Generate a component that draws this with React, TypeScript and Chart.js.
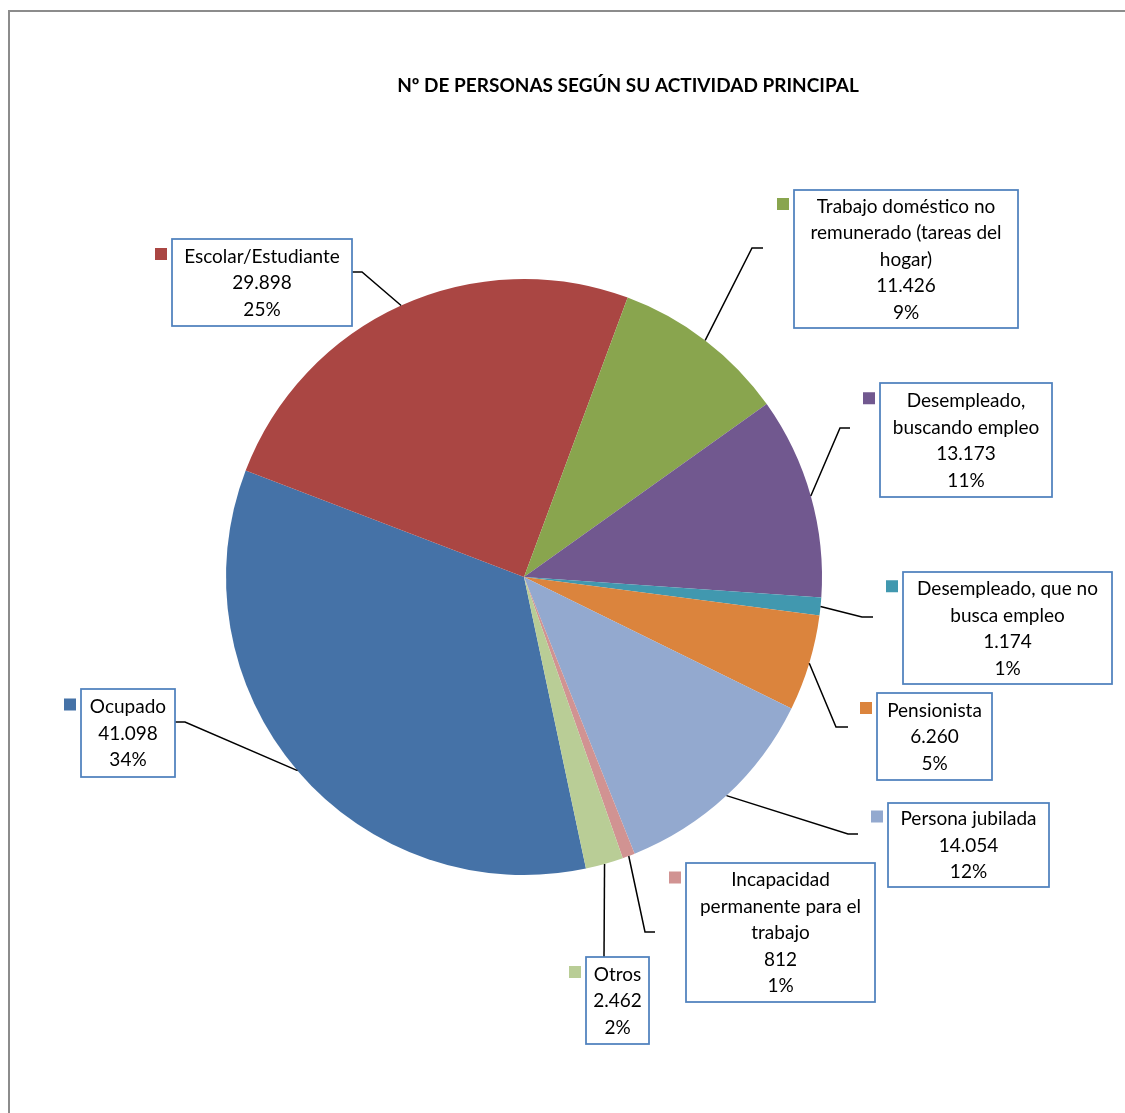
import React, { useEffect, useRef } from "react";
import { Chart, registerables } from "chart.js";

Chart.register(...registerables);

// ---------- DATA ----------
const title = "Nº DE PERSONAS SEGÚN SU ACTIVIDAD PRINCIPAL";
const categoryLines: string[][] = [
  ["Ocupado"],
  ["Escolar/Estudiante"],
  ["Trabajo doméstico no", "remunerado (tareas del", "hogar)"],
  ["Desempleado,", "buscando empleo"],
  ["Desempleado, que no", "busca empleo"],
  ["Pensionista"],
  ["Persona jubilada"],
  ["Incapacidad", "permanente para el", "trabajo"],
  ["Otros"],
];
const categories = categoryLines.map((l) => l.join(" "));
const values = [41098, 29898, 11426, 13173, 1174, 6260, 14054, 812, 2462];

// ---------- STYLE / LAYOUT ----------
const colors = [
  "#4572A7",
  "#AA4643",
  "#89A54E",
  "#71588F",
  "#4198AF",
  "#DB843D",
  "#93A9CF",
  "#D19392",
  "#B9CD96",
];
// label boxes: [left, top, right, bottom] (page pixels)
const labelBoxes: number[][] = [
  [81, 689, 175, 777],
  [172, 239, 352, 326],
  [794, 190, 1018, 328],
  [880, 383, 1052, 497],
  [903, 572, 1112, 684],
  [877, 693, 992, 780],
  [888, 803, 1049, 887],
  [686, 863, 875, 1002],
  [586, 957, 649, 1044],
];
// leader line elbows and ends
const leaderElbows: number[][] = [
  [185, 722],
  [362, 272],
  [752, 248],
  [840, 428],
  [862, 617],
  [836, 727],
  [848, 834],
  [645, 932],
  [604, 957],
];
const leaderEnds: number[][] = [
  [175, 722],
  [352, 272],
  [763, 248],
  [850, 428],
  [873, 617],
  [848, 727],
  [858, 834],
  [655, 932],
  [604, 957],
];

const FONT = "Lato, 'Liberation Sans', sans-serif";
const FONT_SIZE = 19;
const LINE_H = 26.5;

function fmtThousands(v: number): string {
  const s = String(Math.round(v));
  return s.replace(/\B(?=(\d{3})+(?!\d))/g, ".");
}

const calloutPlugin = {
  id: "callouts",
  beforeDraw(chart: any) {
    const ctx = chart.ctx as CanvasRenderingContext2D;
    ctx.save();
    ctx.fillStyle = "#ffffff";
    ctx.fillRect(0, 0, chart.width, chart.height);
    ctx.strokeStyle = "#8c8c8c";
    ctx.lineWidth = 2;
    ctx.strokeRect(9, 11, 1400, 1400);
    ctx.restore();
  },
  afterDatasetsDraw(chart: any) {
    const ctx = chart.ctx as CanvasRenderingContext2D;
    const meta = chart.getDatasetMeta(0);
    const data: number[] = chart.data.datasets[0].data;
    const total = data.reduce((a, b) => a + b, 0);
    ctx.save();
    meta.data.forEach((arc: any, i: number) => {
      const p = arc.getProps(["x", "y", "startAngle", "endAngle", "outerRadius"], true);
      const mid = (p.startAngle + p.endAngle) / 2;
      const sx = p.x + Math.cos(mid) * p.outerRadius;
      const sy = p.y + Math.sin(mid) * p.outerRadius;
      // leader line
      ctx.strokeStyle = "#000000";
      ctx.lineWidth = 1.5;
      ctx.beginPath();
      ctx.moveTo(sx, sy);
      ctx.lineTo(leaderElbows[i][0], leaderElbows[i][1]);
      ctx.lineTo(leaderEnds[i][0], leaderEnds[i][1]);
      ctx.stroke();

      // box
      const [l, t, r, b] = labelBoxes[i];
      ctx.fillStyle = "#ffffff";
      ctx.fillRect(l, t, r - l, b - t);
      ctx.strokeStyle = "#4F81BD";
      ctx.lineWidth = 1.75;
      ctx.strokeRect(l, t, r - l, b - t);

      // text
      const lines = [
        ...categoryLines[i],
        fmtThousands(data[i]),
        Math.round((data[i] / total) * 100) + "%",
      ];
      const cx = (l + r) / 2;
      const firstCenter = (t + b) / 2 - ((lines.length - 1) * LINE_H) / 2;
      ctx.fillStyle = "#000000";
      ctx.font = `${FONT_SIZE}px ${FONT}`;
      ctx.textAlign = "center";
      ctx.textBaseline = "alphabetic";
      lines.forEach((ln, k) => {
        ctx.fillText(ln, cx, firstCenter + k * LINE_H + 6.8);
      });

      // legend key
      ctx.fillStyle = colors[i];
      ctx.fillRect(l - 17, firstCenter - 8, 12, 12);
    });

    // title
    ctx.fillStyle = "#000000";
    ctx.font = `bold ${FONT_SIZE}px ${FONT}`;
    ctx.textAlign = "center";
    ctx.textBaseline = "alphabetic";
    ctx.fillText(title, 628, 92);
    ctx.restore();
  },
};

export default function App() {
  const canvasRef = useRef<HTMLCanvasElement | null>(null);

  useEffect(() => {
    if (!canvasRef.current) return;
    const chart = new Chart(canvasRef.current, {
      type: "pie",
      data: {
        labels: categories,
        datasets: [
          {
            data: values,
            backgroundColor: colors,
            borderWidth: 0,
          },
        ],
      },
      options: {
        responsive: false,
        animation: false,
        rotation: 168,
        radius: 298,
        layout: { padding: { left: 226, top: 279, right: 303, bottom: 238 } },
        plugins: {
          legend: { display: false },
          title: { display: false },
          tooltip: { enabled: false },
        },
      } as any,
      plugins: [calloutPlugin],
    });
    return () => chart.destroy();
  }, []);

  return (
    <canvas
      ref={canvasRef}
      width={1125}
      height={1113}
      style={{ position: "fixed", left: 0, top: 0, width: 1125, height: 1113 }}
    />
  );
}
